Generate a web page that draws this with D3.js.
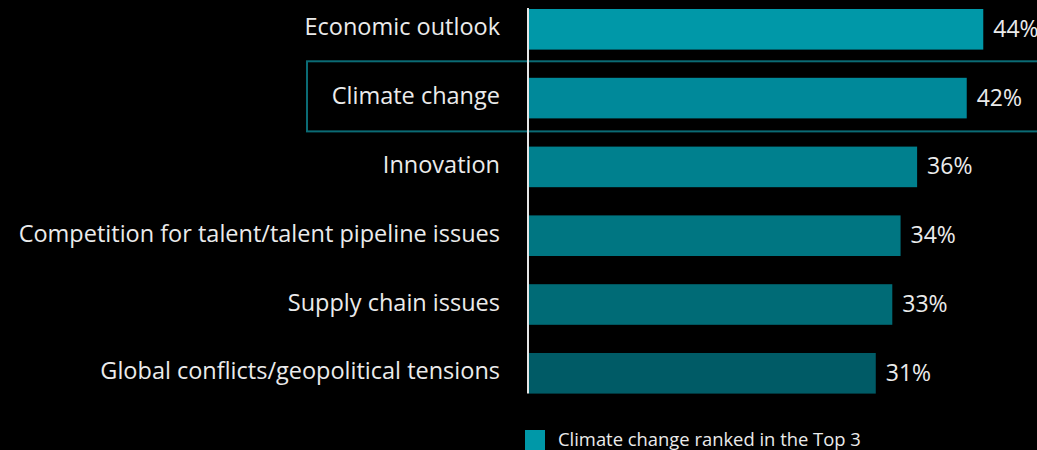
<!DOCTYPE html>
<html>
<head>
<meta charset="utf-8">
<script src="https://cdn.jsdelivr.net/npm/d3@7/dist/d3.min.js"></script>
<style>
  html, body { margin: 0; padding: 0; background: #000; }
  svg { display: block; }
  text { font-family: "Open Sans", "Noto Sans", sans-serif; }
</style>
</head>
<body>
<svg id="chart" width="1037" height="450"></svg>
<script>
// Share of respondents ranking each issue in their top 3
const categories = [
  "Economic outlook",
  "Climate change",
  "Innovation",
  "Competition for talent/talent pipeline issues",
  "Supply chain issues",
  "Global conflicts/geopolitical tensions"
];
const values = [44, 42, 36, 34, 33, 31];
const valueLabels = ["44%", "42%", "36%", "34%", "33%", "31%"];
const barColors = ["#0098a8", "#00899a", "#00808e", "#007682", "#006b76", "#005b66"];
const highlighted = "Climate change";
const legendLabel = "Climate change ranked in the Top 3";

const svg = d3.select("#chart");
const W = 1037, H = 450;

const x0 = -10.93;
const x = d3.scaleLinear().domain([x0, 45]).range([529, 529 + 8.27 * (45 - x0)]);
const y = d3.scaleBand()
  .domain(categories)
  .range([-5.1, 407.7])
  .paddingInner(0.41)
  .paddingOuter(0.205);

// highlight frame around the climate row
const hy = y(highlighted);
svg.append("rect")
  .attr("x", 307)
  .attr("y", hy - 16.5)
  .attr("width", W)
  .attr("height", y.bandwidth() + 29.5)
  .attr("fill", "none")
  .attr("stroke", "#0b6b75")
  .attr("stroke-width", 2);

// bars
svg.append("g").selectAll("rect")
  .data(categories)
  .join("rect")
  .attr("x", x(x0))
  .attr("y", d => y(d))
  .attr("width", (d, i) => x(values[i]) - x(x0))
  .attr("height", y.bandwidth())
  .attr("fill", (d, i) => barColors[i]);

// baseline
svg.append("line")
  .attr("x1", 528).attr("x2", 528)
  .attr("y1", y(categories[0]) - 1)
  .attr("y2", y(categories[categories.length - 1]) + y.bandwidth())
  .attr("stroke", "#e6e6e6")
  .attr("stroke-width", 2);

// category labels
svg.append("g").selectAll("text")
  .data(categories)
  .join("text")
  .attr("x", 500)
  .attr("y", d => y(d) + y.bandwidth() / 2)
  .attr("dy", "0.26em")
  .attr("text-anchor", "end")
  .attr("fill", "#ebebeb")
  .attr("font-size", 23.5)
  .text(d => d);

// value labels
svg.append("g").selectAll("text")
  .data(categories)
  .join("text")
  .attr("x", (d, i) => x(values[i]) + 10)
  .attr("y", d => y(d) + y.bandwidth() / 2)
  .attr("dy", "0.33em")
  .attr("fill", "#ebebeb")
  .attr("font-size", 23)
  .text((d, i) => valueLabels[i]);

// legend
const lg = svg.append("g").attr("transform", "translate(525,430)");
lg.append("rect").attr("width", 20).attr("height", 20).attr("fill", barColors[0]);
lg.append("text")
  .attr("x", 33).attr("y", 16)
  .attr("fill", "#ebebeb")
  .attr("font-size", 18.4)
  .text(legendLabel);
</script>
</body>
</html>
